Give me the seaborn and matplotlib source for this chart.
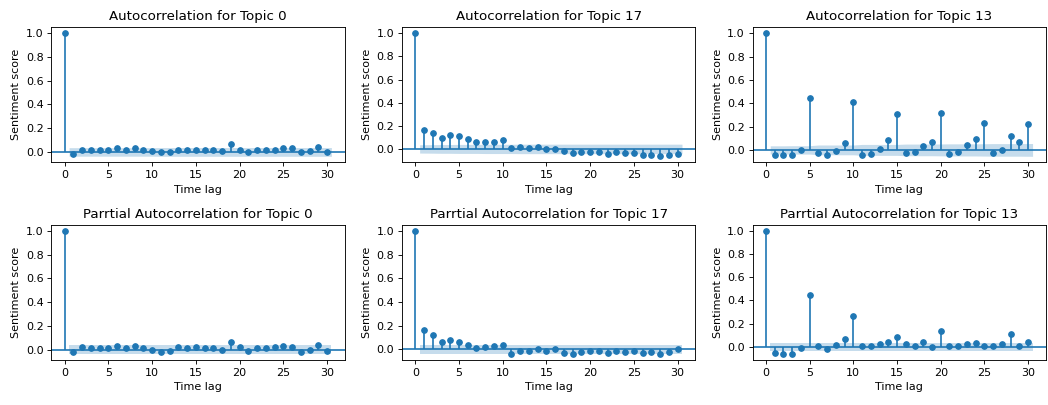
import numpy as np
import matplotlib.pyplot as plt
import seaborn as sns

# ── Date ──────────────────────────────────────────────────────────────────────
LAGS = list(range(31))

ACF_TOPIC_0 = [1.0, -0.019, 0.019, 0.014, 0.014, 0.014, 0.032, 0.014, 0.032, 0.014,
               0.005, 0.0, 0.0, 0.019, 0.014, 0.019, 0.014, 0.014, 0.005, 0.070,
               0.019, 0.0, 0.019, 0.014, 0.019, 0.032, 0.032, 0.0, 0.005, 0.043, 0.0]

ACF_TOPIC_17 = [1.0, 0.160, 0.140, 0.098, 0.117, 0.109, 0.084, 0.059, 0.059, 0.059,
                0.075, 0.010, 0.020, 0.010, 0.020, 0.0, 0.0, -0.020, -0.035, -0.028,
                -0.028, -0.028, -0.045, -0.028, -0.036, -0.036, -0.055, -0.055, -0.064,
                -0.055, -0.045]

ACF_TOPIC_13 = [1.0, -0.044, -0.044, -0.044, -0.003, 0.448, -0.027, -0.044, -0.011, 0.063,
                0.412, -0.044, -0.036, 0.008, 0.082, 0.310, -0.027, -0.019, 0.036, 0.071,
                0.319, -0.036, -0.019, 0.044, 0.091, 0.228, -0.027, 0.0, 0.118, 0.071, 0.220]

PACF_TOPIC_0 = [1.0, -0.020, 0.019, 0.010, 0.010, 0.010, 0.027, 0.010, 0.027, 0.010,
                0.0, -0.020, -0.011, 0.019, 0.010, 0.019, 0.010, 0.010, 0.0, 0.063,
                0.019, -0.011, 0.010, 0.010, 0.019, 0.027, 0.019, -0.020, 0.0, 0.035, -0.011]

PACF_TOPIC_17 = [1.0, 0.163, 0.125, 0.063, 0.082, 0.063, 0.033, 0.008, 0.019, 0.027,
                 0.041, -0.038, -0.011, -0.011, 0.0, -0.011, 0.0, -0.030, -0.038, -0.022,
                 -0.011, -0.011, -0.030, -0.011, -0.022, -0.011, -0.030, -0.022, -0.038,
                 -0.022, 0.0]

PACF_TOPIC_13 = [1.0, -0.050, -0.061, -0.061, -0.011, 0.443, 0.011, -0.022, 0.020, 0.064,
                 0.265, 0.006, 0.011, 0.022, 0.042, 0.089, 0.022, 0.011, 0.042, 0.0,
                 0.136, 0.011, 0.003, 0.022, 0.033, 0.011, 0.011, 0.022, 0.108, 0.003, 0.042]

# jumătatea lățimii intervalului de încredere, lag 1..30
BAND_ACF_0 = [0.036, 0.036, 0.036, 0.036, 0.036, 0.036, 0.036, 0.036, 0.036, 0.036,
              0.037, 0.037, 0.037, 0.037, 0.037, 0.037, 0.037, 0.037, 0.037, 0.037,
              0.037, 0.037, 0.037, 0.037, 0.037, 0.037, 0.037, 0.037, 0.037, 0.037]

BAND_ACF_17 = [0.036, 0.037, 0.038, 0.038, 0.039, 0.039, 0.039, 0.040, 0.040, 0.040,
               0.040, 0.041, 0.041, 0.041, 0.041, 0.041, 0.041, 0.041, 0.041, 0.041,
               0.041, 0.041, 0.041, 0.041, 0.041, 0.041, 0.041, 0.041, 0.041, 0.041]

BAND_ACF_13 = [0.035, 0.035, 0.036, 0.036, 0.036, 0.042, 0.042, 0.042, 0.042, 0.042,
               0.047, 0.047, 0.047, 0.047, 0.047, 0.050, 0.050, 0.050, 0.050, 0.051,
               0.052, 0.052, 0.052, 0.052, 0.053, 0.054, 0.054, 0.054, 0.054, 0.055]

BAND_PACF = [0.036, 0.036, 0.036, 0.036, 0.036, 0.036, 0.036, 0.036, 0.036, 0.036,
             0.036, 0.036, 0.036, 0.036, 0.036, 0.036, 0.036, 0.036, 0.036, 0.036,
             0.036, 0.036, 0.036, 0.036, 0.036, 0.036, 0.036, 0.036, 0.036, 0.036]

PANELS = [
    ('Autocorrelation for Topic 0', ACF_TOPIC_0, BAND_ACF_0),
    ('Autocorrelation for Topic 17', ACF_TOPIC_17, BAND_ACF_17),
    ('Autocorrelation for Topic 13', ACF_TOPIC_13, BAND_ACF_13),
    ('Parrtial Autocorrelation for Topic 0', PACF_TOPIC_0, BAND_PACF),
    ('Parrtial Autocorrelation for Topic 17', PACF_TOPIC_17, BAND_PACF),
    ('Parrtial Autocorrelation for Topic 13', PACF_TOPIC_13, BAND_PACF),
]

# ── Grafic ────────────────────────────────────────────────────────────────────
DPI = 80
fig, axes = plt.subplots(2, 3, figsize=(1048 / DPI, 405 / DPI), dpi=DPI)

# banda începe la 0.5 și se termină la 30.5 (ca în statsmodels)
band_x = np.array(LAGS[1:], dtype=float)
band_x[0] -= 0.5
band_x[-1] += 0.5

for ax, (title, vals, band) in zip(axes.flat, PANELS):
    band = np.array(band)
    ax.vlines(LAGS, 0, vals, color='C0', linewidth=1.5)
    ax.axhline(0, color='C0', linewidth=1.5)
    sns.scatterplot(x=LAGS, y=vals, ax=ax, color='C0', s=25,
                    edgecolor='C0', linewidth=1, zorder=3)
    ax.fill_between(band_x, -band, band, alpha=0.25, color='C0', linewidth=0)
    ax.margins(0.05)
    ax.set_xticks([0, 5, 10, 15, 20, 25, 30])
    ax.set_yticks([0.0, 0.2, 0.4, 0.6, 0.8, 1.0])
    ax.set_title(title, fontsize=12)
    ax.set_xlabel('Time lag')
    ax.set_ylabel('Sentiment score')

fig.subplots_adjust(left=0.049, right=0.998, top=0.933, bottom=0.111,
                    wspace=0.195, hspace=0.46)
fig.savefig('out.png', dpi=DPI)
